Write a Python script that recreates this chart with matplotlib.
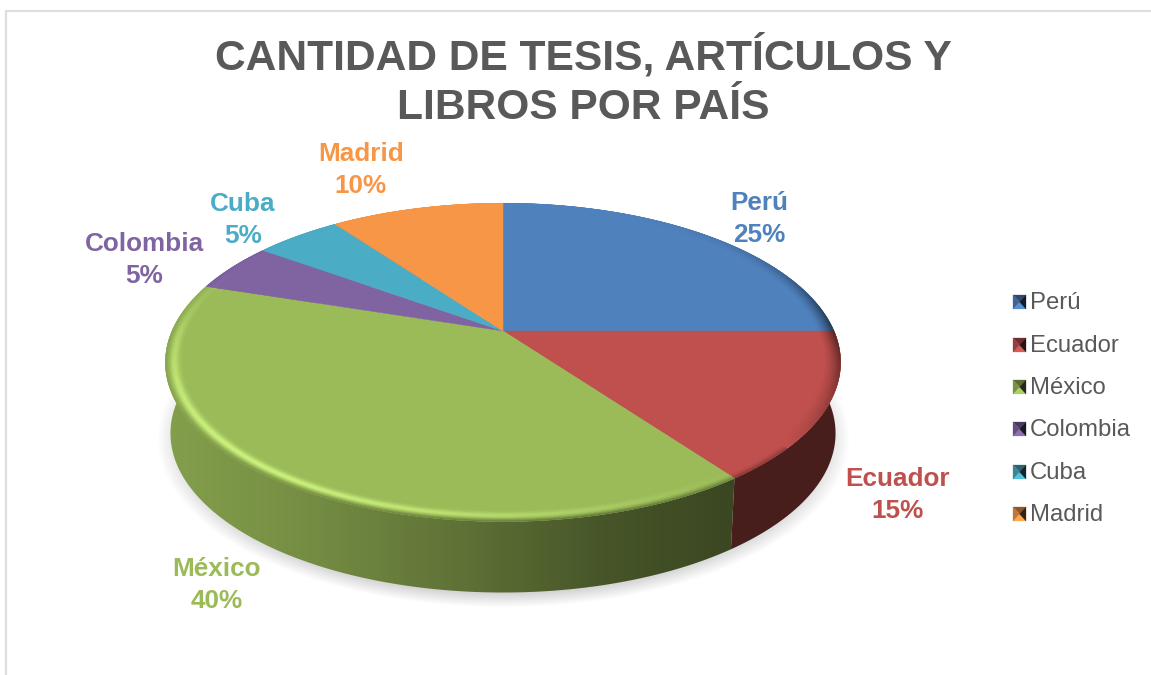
import numpy as np
import matplotlib
matplotlib.use('Agg')
import matplotlib.pyplot as plt
from matplotlib.collections import PolyCollection
from matplotlib.colors import to_rgb
from matplotlib.patches import Polygon

plt.rcParams['font.family'] = ['Liberation Sans', 'DejaVu Sans']

title = 'CANTIDAD DE TESIS, ARTÍCULOS Y\nLIBROS POR PAÍS'
paises = ['Perú', 'Ecuador', 'México', 'Colombia', 'Cuba', 'Madrid']
valores = [25, 15, 40, 5, 5, 10]
colores = ['#4f81bd', '#c0504d', '#9bbb59', '#8064a2', '#4bacc6', '#f79646']

# label centres, in pixels
label_xy = [(759, 219), (898, 495), (217, 585), (144, 260), (243, 220), (361, 170)]
legend_y = [302, 345, 387, 429, 472, 514]

# pie geometry, in pixels
CX, CY = 503, 331
A, B, K = 331, 153, 0.197
DEPTH = 71
BEVEL = 0.95


def project(r, ang):
    # ang is clockwise from the top, circle drawn in perspective
    x = r * np.sin(ang)
    y = r * np.cos(ang)
    d = 1 + K * y
    return CX + A * x / d, CY - B * y / d


def side_factor(x):
    return np.interp(x, [165, 300, 450, 600, 727, 841], [0.85, 0.76, 0.62, 0.46, 0.38, 0.38])


fig = plt.figure(figsize=(11.51, 6.75), dpi=100, facecolor='white')
ax = fig.add_axes([0, 0, 1, 1])
ax.set_xlim(0, 1151)
ax.set_ylim(675, 0)
ax.axis('off')

# chart frame
ax.plot([6, 6, 1151], [675, 11, 11], color='#dedede', lw=1.6, zorder=1)

# soft shadow under the pie
yy, xx = np.mgrid[0:675, 0:1151]
ex = (xx - 503) / 330
ey = (yy - (361 + DEPTH + 6)) / 161
dist = (np.sqrt(ex ** 2 + ey ** 2) - 1) * 161
shadow = np.clip(1 - (dist + 6) / 14, 0, 1) * 0.26
rgba = np.zeros((675, 1151, 4))
rgba[..., :3] = 0.35
rgba[..., 3] = shadow
ax.imshow(rgba, extent=(0, 1151, 675, 0), zorder=2, aspect='auto', interpolation='bilinear')

cuts = np.cumsum([0] + valores) / sum(valores) * 2 * np.pi

# side walls with a horizontal gradient
for i, color in enumerate(colores):
    t = np.linspace(cuts[i], cuts[i + 1], 120)
    px, py = project(1, t)
    bx = CX + (px - CX) * 0.985
    by = py + DEPTH
    poly = np.column_stack([np.r_[px, bx[::-1]], np.r_[py, by[::-1]]])
    shade = side_factor(np.arange(150, 860))[None, :, None] * np.array(to_rgb(color))
    im = ax.imshow(shade, extent=(150, 860, 640, 190), zorder=3 + i * 0.01, aspect='auto')
    patch = Polygon(poly, transform=ax.transData, fc='none', ec='none')
    ax.add_patch(patch)
    im.set_clip_path(patch)
    ax.set_xlim(0, 1151)
    ax.set_ylim(675, 0)

# top faces
for i, color in enumerate(colores):
    t = np.linspace(cuts[i], cuts[i + 1], 120)
    px, py = project(1, t)
    ax.add_patch(Polygon(np.column_stack([np.r_[CX, px], np.r_[CY, py]]),
                         fc=color, ec=color, lw=0.3, zorder=5))

# bevel along the rim: light on the left, dark on the right
rings = np.linspace(BEVEL, 1, 15)
for i, color in enumerate(colores):
    base = np.array(to_rgb(color))
    light = np.clip(base * 1.2 + 0.08, 0, 1)
    dark = base * 0.34
    steps = max(int((cuts[i + 1] - cuts[i]) * 90), 4)
    t = np.linspace(cuts[i], cuts[i + 1], steps + 1)
    quads, cols = [], []
    for r0, r1 in zip(rings[:-1], rings[1:]):
        u = ((r0 + r1) / 2 - BEVEL) / (1 - BEVEL)
        for a0, a1 in zip(t[:-1], t[1:]):
            am = (a0 + a1) / 2
            s = np.cos(am - np.radians(222))
            front = np.clip(1 - np.cos(am), 0, 1) ** 2
            x0, y0 = project(r0, a0)
            x1, y1 = project(r1, a0)
            x2, y2 = project(r1, a1)
            x3, y3 = project(r0, a1)
            if s >= 0:
                w = s ** 2 * front * np.exp(-((u - 0.5) / 0.26) ** 2)
                c = base + (light - base) * w
                # outer part of the bevel melts into the side wall
                side = base * side_factor((x0 + x2) / 2)
                c = c + (side - c) * np.clip((u - 0.55) / 0.45, 0, 1) ** 2 * front * (0.4 + 0.6 * s)
            else:
                w = min(1, -s * 1.3) * front * u ** 1.6
                c = base + (dark - base) * w
            quads.append([(x0, y0), (x1, y1), (x2, y2), (x3, y3)])
            cols.append(c)
    ax.add_collection(PolyCollection(quads, facecolors=cols, edgecolors=cols, linewidths=0.3, zorder=6))

# title
ax.text(583, 81, title, ha='center', va='center', fontsize=30.6, fontweight='bold',
        color='#595959', linespacing=1.32, zorder=8)

# data labels
for nombre, v, color, (lx, ly) in zip(paises, valores, colores, label_xy):
    ax.text(lx, ly, '%s\n%d%%' % (nombre, v), ha='center', va='center', fontsize=18.8,
            fontweight='bold', color=color, linespacing=1.38, zorder=8)

# legend with pyramid style keys
for nombre, color, ly in zip(paises, colores, legend_y):
    base = np.array(to_rgb(color))
    x0, x1 = 1013, 1026
    y0, y1 = ly - 7, ly + 7
    xm, ym = (x0 + x1) / 2, ly
    faces = [([(x0, y0), (x1, y0), (xm, ym)], base * 0.58),
             ([(x0, y1), (x1, y1), (xm, ym)], np.clip(base * 1.12, 0, 1)),
             ([(x0, y0), (x0, y1), (xm, ym)], base * 0.78),
             ([(x1, y0), (x1, y1), (xm, ym)], base * 0.22)]
    for pts, c in faces:
        ax.add_patch(Polygon(pts, fc=c, ec=c, lw=0.2, zorder=8))
    ax.text(1030, ly + 1, nombre, ha='left', va='center', fontsize=17.2, color='#595959', zorder=8)

fig.savefig('out.png', dpi=100, facecolor='white')
plt.close(fig)
